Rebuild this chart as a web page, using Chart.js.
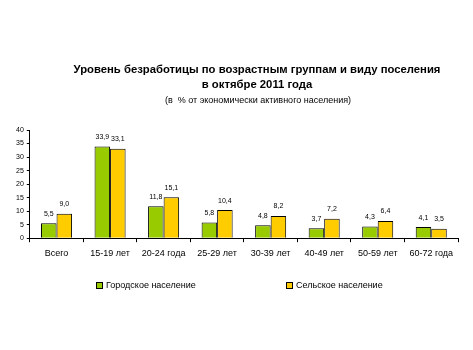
<!DOCTYPE html>
<html>
<head>
<meta charset="utf-8">
<script src="https://cdn.jsdelivr.net/npm/chart.js@4/dist/chart.umd.min.js"></script>
<style>
  html, body { margin: 0; padding: 0; background: #fff; }
  #box { width: 473px; height: 350px; }
</style>
</head>
<body>
<div id="box"><canvas id="grafica"></canvas></div>
<script>
const categorias = ["Всего", "15-19 лет", "20-24 года", "25-29 лет", "30-39 лет", "40-49 лет", "50-59 лет", "60-72 года"];
const gorodskoe = [5.5, 33.9, 11.8, 5.8, 4.8, 3.7, 4.3, 4.1];
const selskoe = [9.0, 33.1, 15.1, 10.4, 8.2, 7.2, 6.4, 3.5];
const titulo = ["Уровень безработицы по возрастным группам и виду поселения", "в октябре 2011 года"];
const subtitulo = "(в  % от экономически активного населения)";

const fuente = "'Liberation Sans', Arial, sans-serif";

// подписи значений, заголовок и легенда
const extras = {
  id: "extras",
  afterDatasetsDraw(chart) {
    const ctx = chart.ctx;
    ctx.save();
    ctx.fillStyle = "#000";
    ctx.textAlign = "center";
    ctx.textBaseline = "bottom";
    ctx.font = "7px " + fuente;
    chart.data.datasets.forEach((ds, i) => {
      chart.getDatasetMeta(i).data.forEach((bar, j) => {
        ctx.fillText(ds.data[j].toFixed(1).replace(".", ","), bar.x, bar.y - 6);
      });
    });

    ctx.font = "bold 11.3px " + fuente;
    ctx.fillText(titulo[0], 257, 76);
    ctx.fillText(titulo[1], 257, 91);
    ctx.font = "9px " + fuente;
    ctx.fillText(subtitulo, 258, 105);

    const legendX = [96, 286];
    ctx.textAlign = "left";
    ctx.textBaseline = "middle";
    ctx.font = "9px " + fuente;
    chart.data.datasets.forEach((ds, i) => {
      ctx.fillStyle = ds.backgroundColor;
      ctx.fillRect(legendX[i], 282, 6, 6);
      ctx.strokeStyle = "#000";
      ctx.lineWidth = 1;
      ctx.strokeRect(legendX[i] + 0.5, 282.5, 6, 6);
      ctx.fillStyle = "#000";
      ctx.fillText(ds.label, legendX[i] + 10, 286);
    });
    ctx.restore();
  }
};

new Chart(document.getElementById("grafica").getContext("2d"), {
  type: "bar",
  data: {
    labels: categorias,
    datasets: [
      {
        label: "Городское население",
        backgroundColor: "#99cc00",
        borderColor: "#000",
        borderWidth: 1,
        data: gorodskoe,
      },
      {
        label: "Сельское население",
        backgroundColor: "#ffcc00",
        borderColor: "#000",
        borderWidth: 1,
        data: selskoe,
      },
    ],
  },
  options: {
    responsive: true,
    maintainAspectRatio: false,
    animation: false,
    layout: { padding: { top: 130, bottom: 85, left: 13, right: 15 } },
    categoryPercentage: 0.58,
    barPercentage: 1,
    plugins: {
      legend: { display: false },
      title: { display: false },
      tooltip: { enabled: false },
    },
    scales: {
      x: {
        grid: { drawOnChartArea: false, color: "#000", tickLength: 4, offset: true },
        border: { color: "#000", width: 1 },
        ticks: { color: "#000", font: { family: fuente, size: 9 }, padding: 6 },
      },
      y: {
        min: 0,
        max: 40,
        grid: { drawOnChartArea: false, color: "#000", tickLength: 3 },
        border: { color: "#000", width: 1 },
        ticks: { stepSize: 5, color: "#000", font: { family: fuente, size: 7 }, padding: 3 },
      },
    },
  },
  plugins: [extras],
});
</script>
</body>
</html>
